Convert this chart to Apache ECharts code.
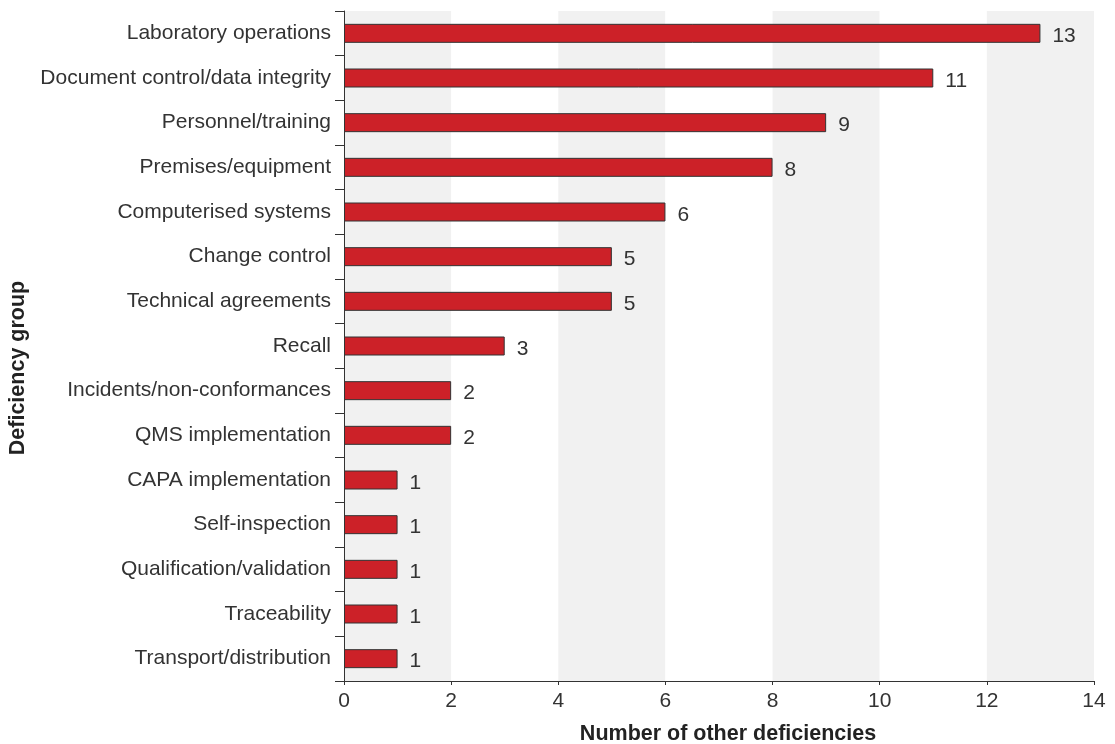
<!DOCTYPE html>
<html>
<head>
<meta charset="utf-8">
<script src="https://cdn.jsdelivr.net/npm/echarts@6/dist/echarts.min.js"></script>
<style>
  html, body { margin: 0; padding: 0; background: #fff; }
  #chart { width: 1115px; height: 744px; }
</style>
</head>
<body>
<div id="chart"></div>
<script>
// categories top to bottom as they appear in the picture
const categories = [
  'Laboratory operations',
  'Document control/data integrity',
  'Personnel/training',
  'Premises/equipment',
  'Computerised systems',
  'Change control',
  'Technical agreements',
  'Recall',
  'Incidents/non-conformances',
  'QMS implementation',
  'CAPA implementation',
  'Self-inspection',
  'Qualification/validation',
  'Traceability',
  'Transport/distribution'
];
const counts = [13, 11, 9, 8, 6, 5, 5, 3, 2, 2, 1, 1, 1, 1, 1];
const xTicks = [0, 2, 4, 6, 8, 10, 12, 14];

const font = '"Liberation Sans", Arial, sans-serif';
const chart = echarts.init(document.getElementById('chart'));

chart.setOption({
  animation: false,
  grid: { left: 344, right: 21, top: 11, bottom: 63, containLabel: false, outerBoundsMode: 'none' },
  xAxis: {
    type: 'value',
    min: xTicks[0],
    max: xTicks[xTicks.length - 1],
    interval: 2,
    name: 'Number of other deficiencies',
    nameLocation: 'middle',
    nameGap: 42,
    // padding nudges the title a bit right, as in the original
    nameTextStyle: { fontFamily: font, fontSize: 21.5, fontWeight: 'bold', color: '#222', padding: [0, 0, 0, 18] },
    axisLine: { show: true, lineStyle: { color: '#333', width: 1 } },
    axisTick: { show: true, length: 4, lineStyle: { color: '#333' } },
    axisLabel: { fontFamily: font, fontSize: 21, color: '#333', margin: 10 },
    splitLine: { show: false },
    splitArea: { show: true, areaStyle: { color: ['#f1f1f1', '#ffffff'] } }
  },
  yAxis: {
    type: 'category',
    data: categories,
    inverse: true,
    name: 'Deficiency group',
    nameLocation: 'middle',
    nameGap: 312,
    nameRotate: 90,
    // the title sits lower than the axis middle
    nameTextStyle: { fontFamily: font, fontSize: 21.5, fontWeight: 'bold', color: '#222', padding: [0, 44, 0, 0] },
    axisLine: { show: true, lineStyle: { color: '#333', width: 1 } },
    axisTick: { show: true, length: 9, lineStyle: { color: '#333' } },
    axisLabel: { fontFamily: font, fontSize: 21, color: '#333', margin: 13 },
    splitLine: { show: false }
  },
  series: [{
    type: 'bar',
    data: counts,
    barWidth: 19,
    itemStyle: { color: '#cc2128', borderColor: '#333', borderWidth: 1 },
    label: {
      show: true,
      position: 'right',
      distance: 12,
      offset: [0, 3],
      fontFamily: font,
      fontSize: 21,
      color: '#333'
    }
  }]
});
</script>
</body>
</html>
